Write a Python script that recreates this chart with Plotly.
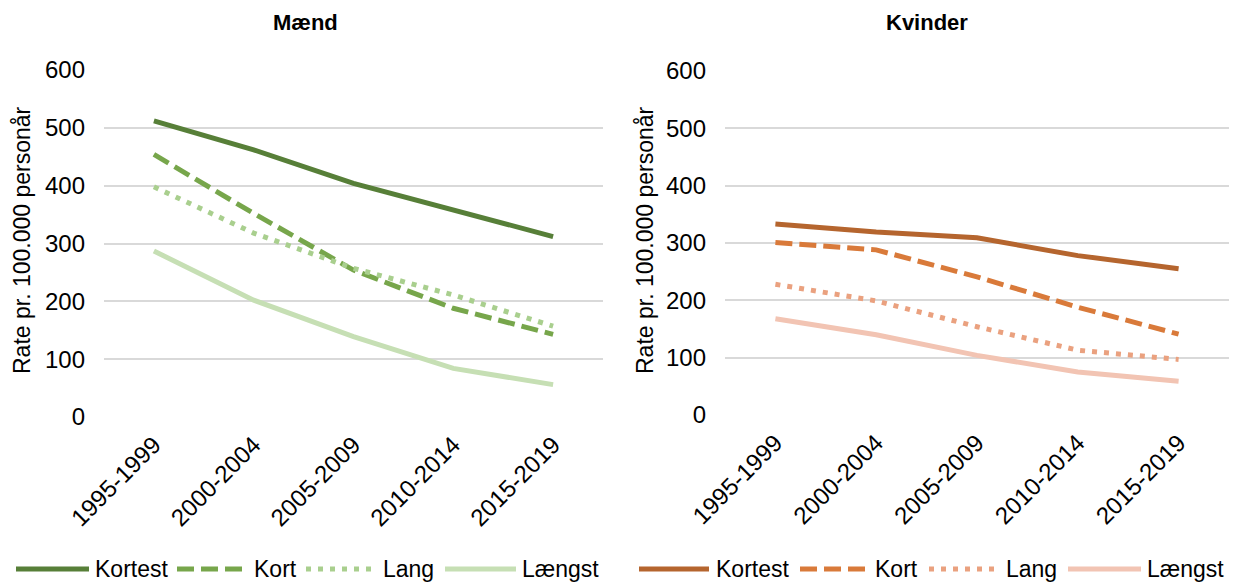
import plotly.graph_objects as go

periods = ["1995-1999", "2000-2004", "2005-2009", "2010-2014", "2015-2019"]
series_names = ["Kortest", "Kort", "Lang", "Længst"]

# Mænd
men_kortest = [512, 462, 404, 358, 312]
men_kort = [454, 352, 254, 188, 143]
men_lang = [398, 318, 257, 211, 157]
men_laengst = [287, 202, 139, 84, 56]

# Kvinder
women_kortest = [333, 319, 309, 278, 255]
women_kort = [301, 288, 241, 188, 141]
women_lang = [228, 199, 154, 113, 97]
women_laengst = [168, 140, 104, 75, 59]

panel_titles = ["Mænd", "Kvinder"]
y_title = "Rate pr. 100.000 personår"
y_ticks = [0, 100, 200, 300, 400, 500, 600]

men_colors = ["#577F38", "#77A64B", "#A9CF8E", "#C6DFB4"]
women_colors = ["#B5652E", "#D97A3A", "#EAA17F", "#F2C4B3"]
dashes = ["solid", "17px,7px", "5px,7px", "solid"]

W, H = 1234, 582
FONT = "Liberation Sans, Arial, sans-serif"


def px_x(v):
    return v / W


def px_y(v):
    return 1 - v / H


fig = go.Figure()

men = [men_kortest, men_kort, men_lang, men_laengst]
women = [women_kortest, women_kort, women_lang, women_laengst]

for name, vals, col, dsh in zip(series_names, men, men_colors, dashes):
    fig.add_trace(go.Scatter(x=periods, y=vals, mode="lines", name=name,
                             line=dict(color=col, width=5, dash=dsh),
                             xaxis="x", yaxis="y", showlegend=False))
for name, vals, col, dsh in zip(series_names, women, women_colors, dashes):
    fig.add_trace(go.Scatter(x=periods, y=vals, mode="lines", name=name,
                             line=dict(color=col, width=5, dash=dsh),
                             xaxis="x2", yaxis="y2", showlegend=False))

axis_common = dict(
    showgrid=True, gridcolor="#D9D9D9", gridwidth=1.5,
    zeroline=False, showline=False, ticks="", automargin=False,
    tickfont=dict(family=FONT, size=24, color="#000000"),
)
xaxis_common = dict(
    type="category", showgrid=False, zeroline=False, showline=False,
    ticks="", automargin=False, tickangle=-45,
    range=[-0.5, len(periods) - 0.5],
    tickfont=dict(family=FONT, size=24, color="#000000"),
    ticklabelstandoff=8,
)

fig.update_layout(
    width=W, height=H,
    margin=dict(l=0, r=0, t=0, b=0, autoexpand=False),
    paper_bgcolor="white", plot_bgcolor="white",
    font=dict(family=FONT, size=24, color="#000000"),
    xaxis=dict(domain=[px_x(104), px_x(603)], anchor="y", **xaxis_common),
    yaxis=dict(domain=[px_y(417), px_y(70)], anchor="x", range=[0, 600],
               tickvals=y_ticks, ticklabelstandoff=18, **axis_common),
    xaxis2=dict(domain=[px_x(725), px_x(1229)], anchor="y2", **xaxis_common),
    yaxis2=dict(domain=[px_y(415), px_y(71)], anchor="x2", range=[0, 600],
                tickvals=y_ticks, ticklabelstandoff=18, **axis_common),
)

annotations = []
shapes = []

# panel titles
for title, cx in zip(panel_titles, [305, 927]):
    annotations.append(dict(text="<b>" + title + "</b>", x=px_x(cx), y=px_y(23),
                            xref="paper", yref="paper", showarrow=False,
                            xanchor="center", yanchor="middle",
                            font=dict(family=FONT, size=22, color="#000000")))

# y axis titles
for cx in [22, 645]:
    annotations.append(dict(text=y_title, x=px_x(cx), y=px_y(240),
                            xref="paper", yref="paper", showarrow=False,
                            textangle=-90, xanchor="center", yanchor="middle",
                            font=dict(family=FONT, size=23, color="#000000")))

# manual legends
legend_y = 569
legend_layout = [
    (men_colors, [(16, 89, 93), (177, 242, 252), (306, 372, 381), (445, 516, 520)]),
    (women_colors, [(639, 709, 714), (800, 865, 873), (929, 995, 1004), (1068, 1141, 1145)]),
]
for cols, slots in legend_layout:
    for name, col, dsh, (x0, x1, tx) in zip(series_names, cols, dashes, slots):
        shapes.append(dict(type="line", xref="paper", yref="paper",
                           x0=px_x(x0), x1=px_x(x1), y0=px_y(legend_y), y1=px_y(legend_y),
                           line=dict(color=col, width=5, dash=dsh)))
        annotations.append(dict(text=name, x=px_x(tx), y=px_y(legend_y),
                                xref="paper", yref="paper", showarrow=False,
                                xanchor="left", yanchor="middle",
                                font=dict(family=FONT, size=23, color="#000000")))

fig.update_layout(annotations=annotations, shapes=shapes)

fig.write_html("out.html")
